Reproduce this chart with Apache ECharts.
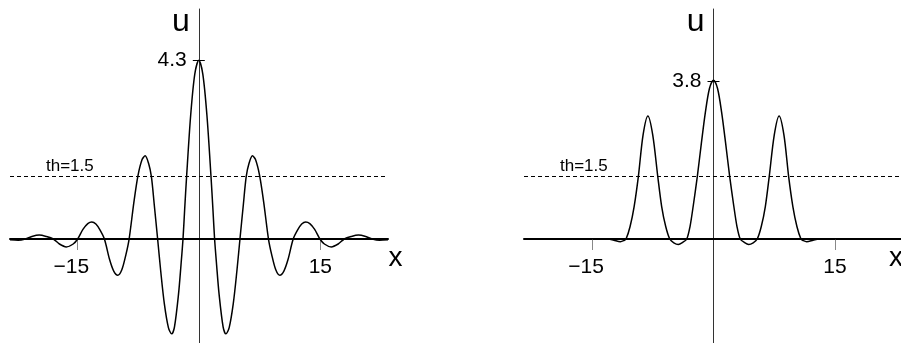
<!DOCTYPE html>
<html>
<head>
<meta charset="utf-8">
<script src="https://cdn.jsdelivr.net/npm/echarts@6/dist/echarts.min.js"></script>
<style>
    html, body { margin: 0; padding: 0; background: #fff; }
    #chart { width: 901px; height: 343px; }
</style>
</head>
<body>
<div id="chart"></div>
<script>
    // values
    var leftX = [-23.3, -22.3, -21.4, -20.6, -19.7, -18.8, -17.95, -17.2, -16.35, -15.5, -14.95, -14.3, -13.7, -13.2, -12.7, -12.2, -11.65,
        -11.0, -10.5, -10.0, -9.5, -9.0, -8.6, -8.0, -7.5, -7.0, -6.62, -6.2, -5.85, -5.5, -5.08, -4.7, -4.25, -3.75, -3.35, -3.0,
        -2.5, -2.2, -1.95, -1.75, -1.5, -1.0, -0.5, 0,
        0.5, 1.0, 1.5, 1.75, 1.95, 2.2, 2.5, 3.0, 3.35, 3.75, 4.25, 4.7, 5.08, 5.5, 5.85, 6.2, 6.62, 7.0, 7.5, 8.0, 8.6, 9.0, 9.5,
        10.0, 10.5, 11.0, 11.65, 12.2, 12.7, 13.2, 13.7, 14.3, 14.95, 15.5, 16.35, 17.2, 17.95, 18.8, 19.7, 20.6, 21.4, 22.3, 23.35];
    var leftU = [-0.02, -0.03, 0, 0.06, 0.095, 0.06, 0, -0.12, -0.19, -0.12, 0, 0.23, 0.37, 0.41, 0.36, 0.22, 0,
        -0.5, -0.77, -0.87, -0.74, -0.38, 0, 0.9, 1.53, 1.91, 2.0, 1.82, 1.5, 0.83, 0, -0.77, -1.56, -2.13, -2.28, -2.11,
        -1.32, -0.63, 0, 0.69, 1.52, 2.98, 3.96, 4.3,
        3.96, 2.98, 1.52, 0.69, 0, -0.63, -1.32, -2.11, -2.28, -2.13, -1.56, -0.77, 0, 0.83, 1.5, 1.82, 2.0, 1.91, 1.53, 0.9, 0, -0.38, -0.74,
        -0.87, -0.77, -0.5, 0, 0.22, 0.36, 0.41, 0.37, 0.23, 0, -0.12, -0.19, -0.12, 0, 0.06, 0.095, 0.06, 0, -0.03, -0.02];

    var rightX = [-23.4, -13.0, -12.3, -11.5, -11.1, -10.8, -10.3, -9.8, -9.28, -8.7, -8.1, -7.5, -6.88, -6.4, -5.9, -5.4,
        -4.9, -4.35, -3.8, -3.3, -2.9, -2.5, -2.0, -1.5, -1.0, -0.5, 0,
        0.5, 1.0, 1.5, 2.0, 2.5, 2.9, 3.3, 3.8, 4.35, 4.9, 5.4, 5.9, 6.4, 6.88, 7.5, 8.1, 8.7, 9.28, 9.8, 10.3, 10.8,
        11.1, 11.5, 12.3, 13.0, 23.4];
    var rightU = [0, 0, -0.03, -0.065, -0.04, 0, 0.3, 0.78, 1.5, 2.5, 2.96, 2.5, 1.5, 0.78, 0.3, 0,
        -0.09, -0.13, -0.08, 0, 0.3, 0.8, 1.5, 2.3, 3.05, 3.62, 3.82,
        3.62, 3.05, 2.3, 1.5, 0.8, 0.3, 0, -0.08, -0.13, -0.09, 0, 0.3, 0.78, 1.5, 2.5, 2.96, 2.5, 1.5, 0.78, 0.3, 0,
        -0.04, -0.065, -0.03, 0, 0];

    var xTicks = [-15, 15];
    var peakTicks = [4.3, 3.8];
    var threshold = 1.5;

    var font = 'Liberation Sans, Arial, Helvetica, sans-serif';
    var yMin = -2.5, yMax = 5.53;

    // panel layout (pixels)
    var panels = [
        { left: 10, top: 9, width: 378, height: 334, xMin: -23.3, xMax: 23.35, nameGap: 7.5 },
        { left: 524, top: 9, width: 379, height: 334, xMin: -23.4, xMax: 23.4, nameGap: -7 }
    ];

    function zip(xs, ys) {
        return xs.map(function (x, i) {
            return [x, ys[i]];
        });
    }

    // where x=0 and u=0 fall inside a panel
    function zeroX(p) { return p.width * (0 - p.xMin) / (p.xMax - p.xMin); }
    function zeroY(p) { return p.height * (yMax - 0) / (yMax - yMin); }

    function xAxisFor(i) {
        var p = panels[i];
        return {
            type: 'value',
            gridIndex: i,
            min: p.xMin,
            max: p.xMax,
            name: 'x',
            nameLocation: 'end',
            nameGap: p.nameGap,
            nameTextStyle: { fontFamily: font, fontSize: 28, color: '#000', align: 'center', verticalAlign: 'top', padding: [5, 0, 0, 0] },
            axisLine: { onZero: true, lineStyle: { color: '#000', width: 2 } },
            axisTick: { show: true, customValues: xTicks, length: 11, lineStyle: { color: '#888', width: 1 } },
            axisLabel: {
                show: true,
                customValues: xTicks,
                // labels stay at the grid edge, pull them up under the zero line
                margin: 18 - (p.height - zeroY(p)),
                fontFamily: font,
                fontSize: 21,
                color: '#000',
                formatter: function (v) {
                    return v < 0 ? '{n|\u2212' + Math.abs(v) + '}{p| }' : '{n|' + v + '}';
                },
                rich: {
                    n: { fontFamily: font, fontSize: 21, color: '#000' },
                    p: { width: 12, fontSize: 21 }
                }
            },
            splitLine: { show: false }
        };
    }

    function yAxesFor(i) {
        var p = panels[i];
        var peak = peakTicks[i];
        return [
            {
                type: 'value',
                gridIndex: i,
                position: 'left',
                min: yMin,
                max: yMax,
                name: 'u',
                nameLocation: 'end',
                nameGap: -13.5,
                nameTextStyle: { fontFamily: font, fontSize: 32, color: '#000', align: 'right', verticalAlign: 'middle', padding: [0, 9, 0, 0] },
                axisLine: { onZero: true, lineStyle: { color: '#333', width: 1 } },
                axisTick: { show: true, customValues: [peak], length: 6, lineStyle: { color: '#000', width: 1 } },
                axisLabel: {
                    show: true,
                    customValues: [peak],
                    margin: 12 - zeroX(p),
                    fontFamily: font,
                    fontSize: 21,
                    color: '#000'
                },
                splitLine: { show: false }
            },
            {
                // right half of the peak tick
                type: 'value',
                gridIndex: i,
                position: 'right',
                offset: -(p.width - zeroX(p)),
                min: yMin,
                max: yMax,
                axisLine: { show: false, onZero: false },
                axisTick: { show: true, customValues: [peak], length: 6, lineStyle: { color: '#000', width: 1 } },
                axisLabel: { show: false },
                splitLine: { show: false }
            }
        ];
    }

    function curveSeries(i, data) {
        return {
            type: 'line',
            xAxisIndex: i,
            yAxisIndex: i * 2,
            data: data,
            showSymbol: false,
            smooth: 0.3,
            lineStyle: { color: '#000', width: 1.5 },
            silent: true,
            markLine: {
                silent: true,
                symbol: ['none', 'none'],
                lineStyle: { color: '#000', width: 1, type: [4, 3] },
                label: {
                    show: true,
                    position: 'insideStartTop',
                    distance: [36, 2],
                    fontFamily: font,
                    fontSize: 17,
                    color: '#000',
                    formatter: function (p) { return 'th=' + p.value; }
                },
                data: [{ yAxis: threshold }]
            }
        };
    }

    var chart = echarts.init(document.getElementById('chart'));
    chart.setOption({
        animation: false,
        backgroundColor: '#fff',
        grid: panels.map(function (p) {
            return { left: p.left, top: p.top, width: p.width, height: p.height, containLabel: false, outerBoundsMode: 'none' };
        }),
        xAxis: [xAxisFor(0), xAxisFor(1)],
        yAxis: yAxesFor(0).concat(yAxesFor(1)),
        series: [
            curveSeries(0, zip(leftX, leftU)),
            curveSeries(1, zip(rightX, rightU))
        ]
    });
</script>
</body>
</html>
